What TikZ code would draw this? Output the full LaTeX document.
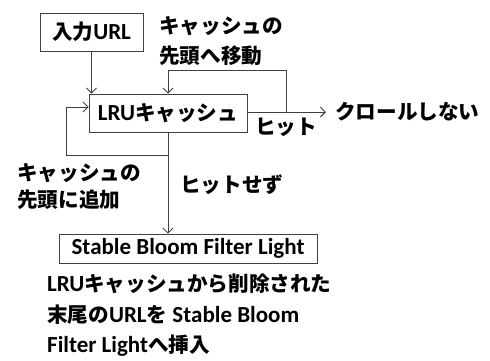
\documentclass[tikz,border=0pt]{standalone}
\usepackage{fontspec}
\setmainfont{Carlito}[UprightFont={Carlito Bold},BoldFont={Carlito Bold},Scale=1.15]
\newfontfamily\jp{Noto Sans CJK JP Black}[Scale=1.03]
\newcommand\J[1]{{\jp #1}}
\usetikzlibrary{arrows.meta}
\tikzset{
  box/.style={draw=black!75, line width=0.9pt, fill=white, inner sep=0pt, font=\fontsize{20}{30}\selectfont},
  lbl/.style={inner sep=0pt, anchor=west, align=left, font=\fontsize{20}{30}\selectfont},
  conn/.style={draw=black!75, line width=0.9pt},
  arr/.style={conn, -{Straight Barb[length=5pt,width=10pt]}}
}
\begin{document}
\begin{tikzpicture}[x=1pt,y=-1pt]
\useasboundingbox (0,0) rectangle (490,360);
\node[box, minimum width=103pt, minimum height=38pt] (in) at (91.5,32) {\J{入力}URL};
\node[box, minimum width=158pt, minimum height=38pt] (lru) at (168,113) {LRU\J{キャッシュ}};
\node[box, minimum width=258pt, minimum height=29pt] (sbf) at (188,248.5) {Stable Bloom Filter Light};
\node[lbl] (t1) at (159,41) {\J{キャッシュの}\\\J{先頭へ移動}};
\node[lbl, font=\fontsize{20}{27}\selectfont] (t2) at (17,186.5) {\J{キャッシュの}\\\J{先頭に追加}};
\node[lbl] (t3) at (180,185) {\J{ヒットせず}};
\node[lbl] (t4) at (255,127) {\J{ヒット}};
\node[lbl] (t5) at (335,112) {\J{クロールしない}};
\node[lbl, font=\fontsize{20}{30.5}\selectfont] (t6) at (47,315.5) {LRU\J{キャッシュから削除された}\\\J{末尾の}URL\J{を} Stable Bloom\\Filter Light\J{へ挿入}};
\coordinate (rtop) at (286,70);
\coordinate (split) at (168,155);
\coordinate (lcorner) at (66,155);
\draw[arr] (in.south) -- (in.south |- lru.north);
\draw[arr] (lru.east |- t5.west) -- ([xshift=-9pt]t5.west);
\draw[arr] (lru.east |- t5.west) -| (rtop) -| (lru.north);
\draw[arr] (lru.south) -- (lru.south |- sbf.north);
\draw[arr] (split) -- (lcorner) |- ([yshift=6pt]lru.west);
\end{tikzpicture}
\end{document}
